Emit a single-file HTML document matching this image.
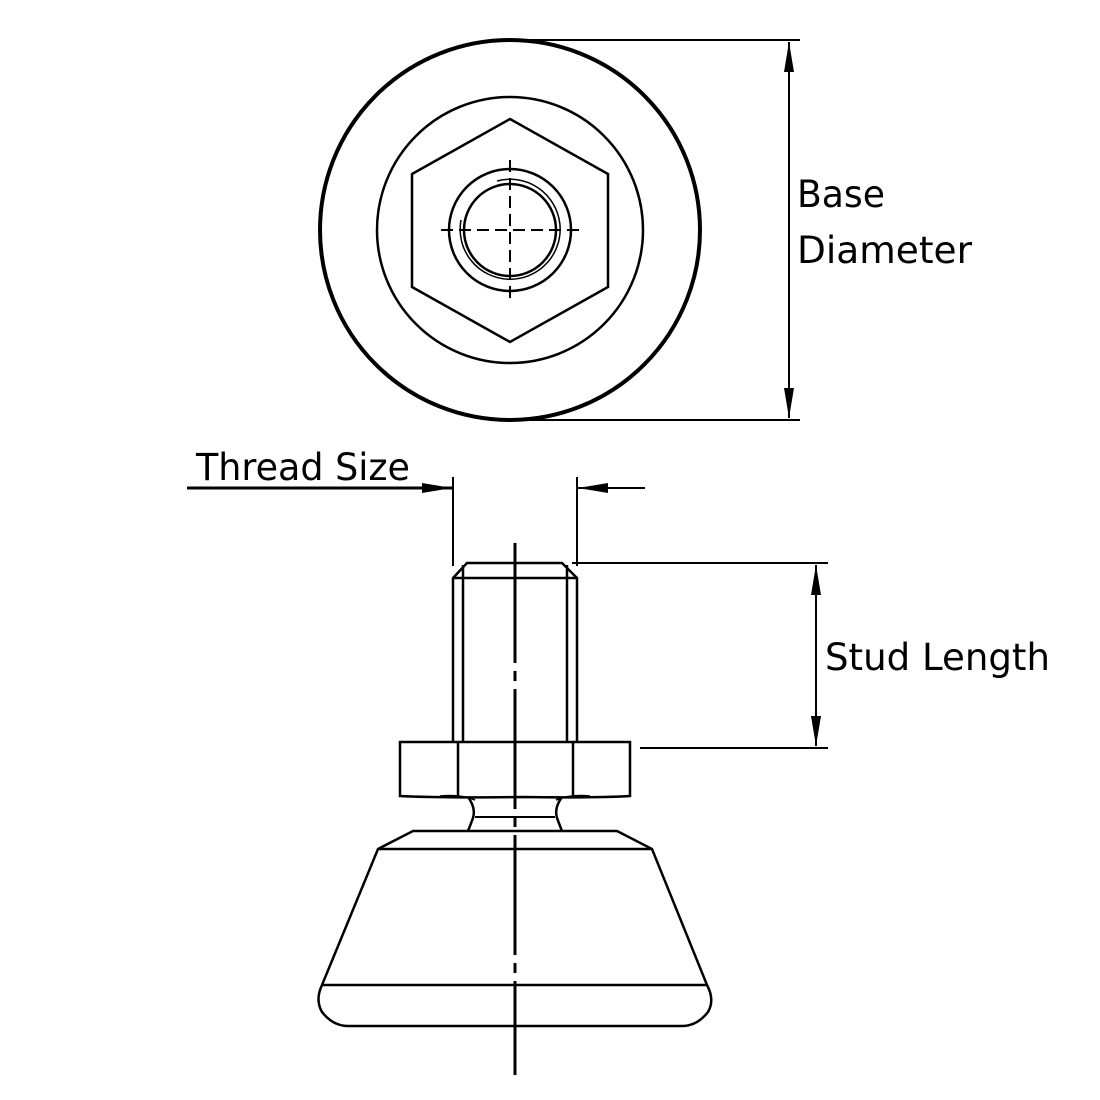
<!DOCTYPE html>
<html><head><meta charset="utf-8"><style>body{margin:0;background:#fff}svg{display:block}</style></head>
<body>
<svg width="1100" height="1100" viewBox="0 0 1100 1100" xmlns="http://www.w3.org/2000/svg">
<defs>
<marker id="ar" viewBox="0 0 10 10" refX="10" refY="5" markerWidth="30" markerHeight="10" markerUnits="userSpaceOnUse" orient="auto-start-reverse" preserveAspectRatio="none"><path d="M0,0L10,5L0,10z" fill="#000"/></marker>
</defs>
<g fill="none" stroke="#000" stroke-width="2.5">
<circle cx="510" cy="230" r="190" stroke-width="4"/>
<circle cx="510" cy="230" r="133"/>
<polygon points="510,119 608,174 608,287 510,342 412,287 412,174"/>
<circle cx="510" cy="230" r="61"/>
<circle cx="510" cy="230" r="46"/>
<path d="M497,181 A50,50 0 1 1 461,220" stroke-width="1.5"/>
<line x1="441" y1="230" x2="580" y2="230" stroke-dasharray="12,6" stroke-width="2"/>
<line x1="510" y1="160" x2="510" y2="300" stroke-dasharray="12,6" stroke-width="2"/>
<line x1="520" y1="40" x2="800" y2="40" stroke-width="2"/>
<line x1="520" y1="420" x2="800" y2="420" stroke-width="2"/>
<line x1="789" y1="42" x2="789" y2="418" stroke-width="2" marker-start="url(#ar)" marker-end="url(#ar)"/>
<line x1="453" y1="477" x2="453" y2="566" stroke-width="2"/>
<line x1="577" y1="477" x2="577" y2="566" stroke-width="2"/>
<line x1="187" y1="488" x2="452" y2="488" stroke-width="3" marker-end="url(#ar)"/>
<line x1="645" y1="488" x2="578" y2="488" stroke-width="2" marker-end="url(#ar)"/>
<line x1="572" y1="563" x2="828" y2="563" stroke-width="2"/>
<line x1="640" y1="748" x2="828" y2="748" stroke-width="2"/>
<line x1="816" y1="565" x2="816" y2="746" stroke-width="2" marker-start="url(#ar)" marker-end="url(#ar)"/>
<polyline points="453,742 453,578 467,563 562,563 577,578 577,742"/>
<line x1="453" y1="578" x2="577" y2="578"/>
<line x1="463" y1="578" x2="463" y2="742"/>
<line x1="567" y1="578" x2="567" y2="742"/>
<line x1="463" y1="565" x2="463" y2="578"/><line x1="567" y1="565" x2="567" y2="578"/>
<path d="M400,742 H630 V796 Q600,798 520,797 Q440,798 400,796 Z"/>
<line x1="458" y1="742" x2="458" y2="796"/>
<line x1="573" y1="742" x2="573" y2="796"/>
<path d="M440,796 Q460,794 475,800 M590,796 Q570,794 556,800" stroke-width="1.5"/>
<path d="M468,797 Q476,808 473,818 Q470,826 468,831"/>
<path d="M562,797 Q554,808 557,818 Q560,826 562,831"/>
<line x1="475" y1="817" x2="555" y2="817" stroke-width="2"/>
<path d="M413,831 H617 L652,849 L707,985 Q715,1000 708,1012 Q697,1026 682,1026 H348 Q333,1026 322,1012 Q315,1000 322,985 L378,849 Z"/>
<line x1="378" y1="849" x2="652" y2="849"/>
<line x1="322" y1="985" x2="707" y2="985"/>
<line x1="515" y1="543" x2="515" y2="1075" stroke-width="3" stroke-dasharray="120,8,10,8"/>
</g>
<g font-family="'DejaVu Sans','Liberation Sans',sans-serif" font-size="37" fill="#000">
<text x="797" y="207" textLength="88" lengthAdjust="spacingAndGlyphs">Base</text>
<text x="797" y="263" textLength="175" lengthAdjust="spacingAndGlyphs">Diameter</text>
<text x="196" y="480" textLength="214" lengthAdjust="spacingAndGlyphs">Thread Size</text>
<text x="825" y="670" textLength="225" lengthAdjust="spacingAndGlyphs">Stud Length</text>
</g>
</svg>
</body></html>
